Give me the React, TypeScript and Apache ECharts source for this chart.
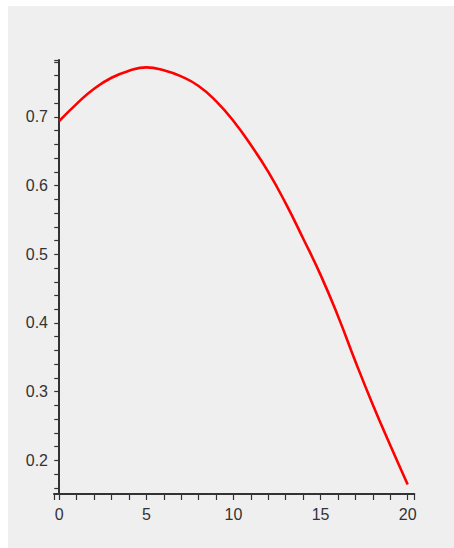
import React, { useEffect, useRef } from "react";
import * as echarts from "echarts";

const xValues = [0, 1, 2, 3, 4, 5, 6, 7, 8, 9, 10, 11, 12, 13, 14, 15, 16, 17, 18, 19, 20];
const yValues = [0.694, 0.719, 0.741, 0.757, 0.767, 0.772, 0.768, 0.759, 0.745, 0.723, 0.694, 0.659, 0.620, 0.574, 0.523, 0.470, 0.410, 0.344, 0.281, 0.222, 0.165];

const xLabels = [0, 5, 10, 15, 20];
const xTicks = [-0.3, 0, 1, 2, 3, 4, 5, 6, 7, 8, 9, 10, 11, 12, 13, 14, 15, 16, 17, 18, 19, 20, 20.38];
const yLabels = [0.2, 0.3, 0.4, 0.5, 0.6, 0.7];
const yTicks = [0.16, 0.18, 0.2, 0.22, 0.24, 0.26, 0.28, 0.3, 0.32, 0.34, 0.36, 0.38, 0.4, 0.42, 0.44, 0.46, 0.48, 0.5, 0.52, 0.54, 0.56, 0.58, 0.6, 0.62, 0.64, 0.66, 0.68, 0.7, 0.72, 0.74, 0.76, 0.78, 0.7828];

const X_MIN = -0.3;
const X_MAX = 20.38;
const Y_MIN = 0.1511;
const Y_MAX = 0.7828;

export default function App() {
  const ref = useRef<HTMLDivElement>(null);
  useEffect(() => {
    if (!ref.current) return;
    const chart = echarts.init(ref.current, null, { renderer: "svg" });
    const labelStyle = {
      fontFamily: "'Liberation Sans', Arial, sans-serif",
      fontSize: 16,
      color: "#333",
    };
    chart.setOption({
      animation: false,
      backgroundColor: "#efefef",
      grid: { left: 46, top: 54, width: 360.3, height: 434, containLabel: false },
      xAxis: {
        type: "value",
        min: X_MIN,
        max: X_MAX,
        splitLine: { show: false },
        axisLine: { show: true, onZero: false, lineStyle: { color: "#333", width: 2 } },
        axisTick: { show: true, length: 6, customValues: xTicks, lineStyle: { color: "#333", width: 1.2 } },
        axisLabel: { ...labelStyle, margin: 12, customValues: xLabels, formatter: (v: number) => String(v) },
      },
      yAxis: {
        type: "value",
        min: Y_MIN,
        max: Y_MAX,
        splitLine: { show: false },
        axisLine: { show: true, onZero: true, lineStyle: { color: "#333", width: 2 } },
        axisTick: { show: true, length: 5, customValues: yTicks, lineStyle: { color: "#333", width: 1.2 } },
        axisLabel: { ...labelStyle, margin: 6, customValues: yLabels, formatter: (v: number) => v.toFixed(1) },
      },
      series: [
        {
          type: "line",
          data: xValues.map((x, i) => [x, yValues[i]]),
          smooth: 0.5,
          showSymbol: false,
          lineStyle: { color: "#ff0000", width: 2.6 },
        },
      ],
    });
    return () => chart.dispose();
  }, []);
  return (
    <div
      ref={ref}
      style={{ position: "absolute", left: 8, top: 6, width: 446, height: 542 }}
    />
  );
}
